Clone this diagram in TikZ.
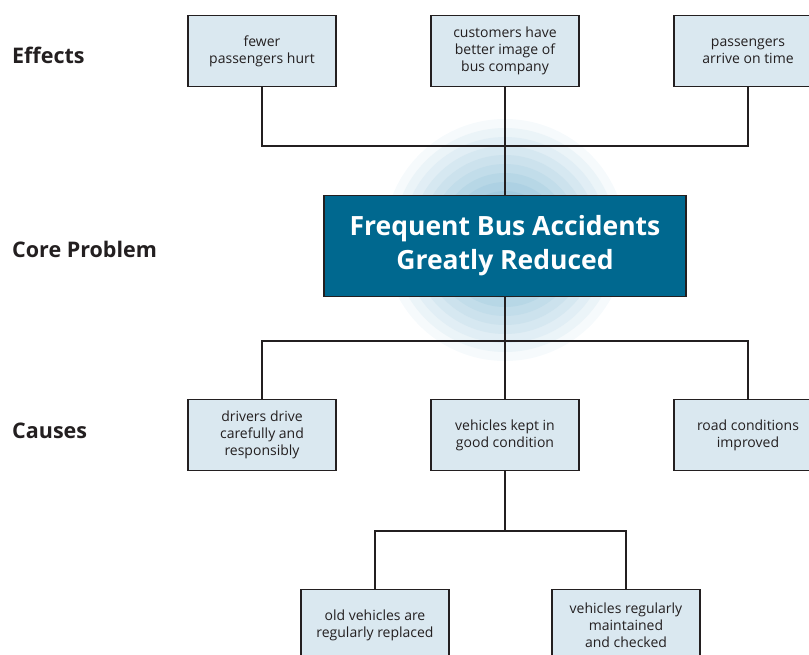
\documentclass[tikz,border=0pt]{standalone}
\usepackage{fontspec}
\setmainfont{Open Sans}
\definecolor{boxfill}{RGB}{218,232,240}
\definecolor{boxline}{RGB}{35,31,32}
\definecolor{corefill}{RGB}{0,104,143}
\definecolor{glowc}{RGB}{96,166,200}
\tikzset{
  level/.style={anchor=west, inner sep=0pt, font=\fontsize{21.5}{24}\selectfont\bfseries, text=boxline},
  item/.style={draw=boxline, line width=1.6pt, fill=boxfill, minimum width=148pt,
    minimum height=71pt, align=center, font=\fontsize{14}{17}\selectfont, text=boxline,
    inner sep=2pt},
  core/.style={draw=boxline, line width=1.6pt, fill=corefill, minimum width=362pt,
    minimum height=101pt, align=center, text=white,
    font=\fontsize{26.5}{34}\selectfont\bfseries},
  link/.style={draw=boxline, line width=1.6pt}
}
\begin{document}
\begin{tikzpicture}[x=1pt, y=-1pt]
  \useasboundingbox (0,0) rectangle (809,654);
  % glow behind the core problem
  \coordinate (glow) at (505,240);
  \foreach \k in {0,...,11}{
    \pgfmathsetmacro\r{121-9*\k}
    \pgfmathsetmacro\p{6+6.5*\k}
    \fill[glowc!\p!white] (glow) circle[radius=\r pt];
  }
  % row labels
  \node[level] (lEff) at (12,55) {Effects};
  \node[level] (lCore) at (12,249) {Core Problem};
  \node[level] (lCause) at (12,431) {Causes};
  % effects
  \node[item] (eff1) at (262,51) {fewer\\passengers hurt};
  \node[item] (eff2) at (505,51) {customers have\\better image of\\bus company};
  \node[item] (eff3) at (748,51) {passengers\\arrive on time};
  % core problem
  \node[core] (core) at (505,246) {Frequent Bus Accidents\\Greatly Reduced};
  % causes
  \node[item] (cause1) at (262,435) {drivers drive\\carefully and\\responsibly};
  \node[item] (cause2) at (505,435) {vehicles kept in\\good condition};
  \node[item] (cause3) at (748,435) {road conditions\\improved};
  \node[item] (sub1) at (375,625) {old vehicles are\\regularly replaced};
  \node[item] (sub2) at (626,625) {vehicles regularly\\maintained\\and checked};
  % connectors
  \coordinate (topJoin) at (505,146);
  \coordinate (lowJoin) at (505,341);
  \coordinate (subJoin) at (505,531);
  \draw[link] (eff1.south) |- (topJoin) -| (eff3.south);
  \draw[link] (eff2.south) -- (core.north);
  \draw[link] (cause1.north) |- (lowJoin) -| (cause3.north);
  \draw[link] (core.south) -- (cause2.north);
  \draw[link] (sub1.north) |- (subJoin) -| (sub2.north);
  \draw[link] (cause2.south) -- (subJoin);
\end{tikzpicture}
\end{document}
